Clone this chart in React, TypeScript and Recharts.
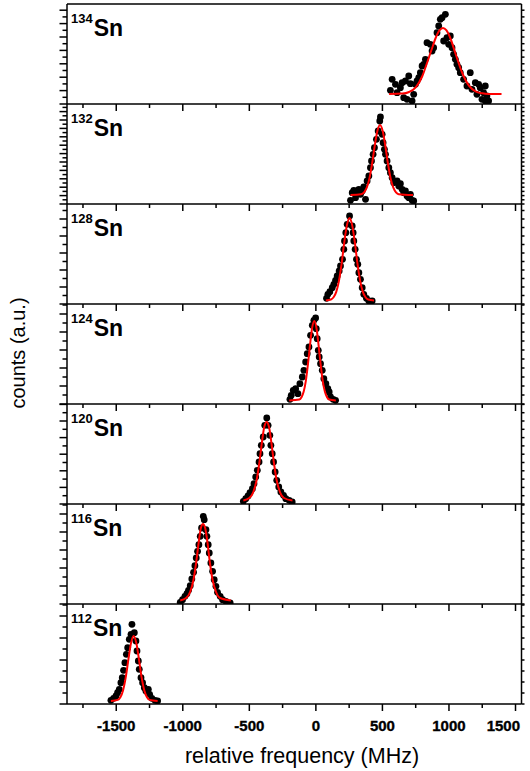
import React from 'react'
import { ComposedChart, Scatter, Line, XAxis, YAxis, ReferenceLine } from 'recharts'

const FONT = '"Liberation Sans", Arial, sans-serif'

const isotopes = ['134', '132', '128', '124', '120', '116', '112']
// spacing of the unlabeled count ticks, per panel
const yTickStep = [6.7, 4.2, 8.5, 9, 8.3, 9, 11]

const xMajorTicks = [-1500, -1000, -500, 0, 500, 1000, 1500]
const xMinorTicks = [-1750, -1250, -750, -250, 250, 750, 1250]

const counts134 = [[560,13.7],[573,24.7],[598,19.7],[610,11.3],[635,16.3],[648,21.3],[660,6.3],[673,23],[685,4.7],[698,28],[710,20.3],[723,3],[735,9.7],[748,19.7],[760,23],[773,26.3],[785,31.3],[798,38],[810,39.7],[823,44.7],[835,61.3],[860,59.7],[873,53],[885,56.3],[910,71.3],[923,78],[935,84.7],[948,86.3],[960,63],[973,89.7],[985,66.3],[998,59.7],[1010,68],[1023,56.3],[1035,49.7],[1048,44.7],[1060,39.7],[1073,36.3],[1085,31.3],[1110,24.7],[1135,18],[1160,31.3],[1173,14.7],[1198,21.3],[1210,9.7],[1223,19.7],[1235,16.3],[1248,4.7],[1260,11.3],[1273,18],[1273,3],[1285,8],[1298,3]]
const counts132 = [[260,3.7],[273,11.3],[285,13.7],[298,6.3],[310,13],[323,14.7],[335,9.7],[348,13],[360,17],[373,4.7],[385,23],[398,28],[410,36.3],[418,43],[430,49.7],[440,56.3],[455,64.7],[468,73],[480,83],[485,87],[498,69.7],[505,61.3],[515,54.7],[523,49.7],[535,43],[548,36.3],[560,31.3],[573,26.3],[585,21.3],[610,23],[623,18],[635,20.3],[648,14.7],[660,11.3],[673,13],[685,8],[698,6.3],[710,9.7],[723,3.7],[735,3]]
const counts128 = [[80,5.7],[90,9.7],[105,12.3],[123,16.3],[135,19.7],[148,23.7],[160,28],[175,33],[185,38],[200,44.7],[210,54.7],[215,63],[225,71.3],[235,79.7],[253,88],[273,78],[280,71.3],[285,63],[295,54.7],[305,44.7],[315,39.7],[323,31.3],[335,24.7],[348,16.3],[360,9.7],[380,5.7],[398,3],[423,3]]
const counts124 = [[-195,4.7],[-185,8.7],[-170,13.7],[-152,15.3],[-135,10.3],[-120,20.3],[-102,27],[-90,33.7],[-77,42],[-65,50.3],[-52,57],[-40,68.7],[-27,78.7],[-15,83.7],[-2,86],[3,75.3],[10,65.3],[18,53.7],[25,47],[35,40.3],[48,33.7],[60,25.3],[75,20.3],[90,15.3],[100,12],[110,7],[130,4.7],[148,3.7]]
const counts120 = [[-545,2.7],[-527,5.3],[-510,8],[-495,11.3],[-477,15.3],[-465,20.3],[-452,27],[-440,33.7],[-427,42],[-420,50.3],[-410,58.7],[-396,67],[-384,78.7],[-369,86],[-359,78.7],[-346,68.7],[-338,58.7],[-328,50.3],[-318,42],[-306,32],[-294,23.7],[-279,17],[-263,12],[-243,8.7],[-226,5.3],[-201,3.7],[-178,2]]
const counts116 = [[-1019,1.7],[-1002,4.3],[-984,7.7],[-969,10.3],[-957,13.7],[-944,18.3],[-932,25],[-919,31.7],[-909,38.3],[-899,46],[-889,52.7],[-879,59.3],[-869,67.7],[-859,76],[-846,87.7],[-839,84.3],[-826,74.3],[-819,67.7],[-809,59.3],[-801,51],[-789,41],[-776,32.7],[-764,24.3],[-751,17.7],[-739,11.7],[-719,7.7],[-701,4.3],[-676,2.7],[-644,1]]
const counts112 = [[-1540,3.7],[-1520,5.7],[-1502,8],[-1490,11.3],[-1477,14.7],[-1465,21.3],[-1455,26.3],[-1445,33.7],[-1435,41.3],[-1424,49.7],[-1414,56.3],[-1402,64.7],[-1389,69.7],[-1382,79.7],[-1364,71.3],[-1352,63],[-1344,53],[-1334,43],[-1327,34.7],[-1314,26.3],[-1302,21.3],[-1289,16.3],[-1277,13],[-1259,14.7],[-1249,9.7],[-1232,5.7],[-1209,3.7],[-1189,3]]

const fit134 = [[550,10],[650,10.4],[700,12],[750,16.7],[800,28],[835,41],[870,54.6],[900,66],[930,73.8],[955,76],[980,73.8],[1010,66],[1050,50],[1100,31],[1150,18.4],[1200,12.6],[1250,10.7],[1300,10.1],[1395,10]]
const fit132 = [[260,9],[340,9.8],[362,11.7],[382,16.3],[402,25.4],[422,40],[442,58],[462,73],[482,79],[502,73],[522,58],[542,40],[562,25.4],[582,16.3],[602,11.7],[622,9.8],[730,9]]
const fit128 = [[75,3.6],[113,4.5],[133,6.7],[153,12.1],[173,22.9],[193,39.8],[213,61.3],[233,78.6],[253,86],[273,78.6],[293,61.3],[313,39.8],[333,22.9],[353,12.1],[373,6.7],[393,4.5],[437,3.6]]
const fit124 = [[-200,3.6],[-124,4.5],[-108,6.8],[-92,12.2],[-76,22.7],[-60,39.3],[-44,59.2],[-28,76.2],[-12,83],[4,76.2],[20,59.2],[36,39.3],[52,22.7],[68,12.2],[84,6.8],[100,4.5],[150,3.6]]
const fit120 = [[-545,3.5],[-500,6],[-470,12],[-445,24],[-425,41],[-405,62],[-388,77],[-370,82],[-352,77],[-335,62],[-315,41],[-295,24],[-270,12],[-240,6],[-176,3.5]]
const fit116 = [[-1019,3.6],[-975,6],[-945,12],[-920,24],[-900,41],[-880,62],[-864,76],[-848,80],[-832,76],[-815,62],[-796,41],[-776,24],[-750,12],[-720,6],[-639,3.6]]
const fit112 = [[-1540,3],[-1489,4.1],[-1469,6.8],[-1449,13.6],[-1429,26.4],[-1409,44.3],[-1389,60.9],[-1369,68],[-1349,60.9],[-1329,44.3],[-1309,26.4],[-1289,13.6],[-1269,6.8],[-1249,4.1],[-1189,3]]

const allCounts = [counts134, counts132, counts128, counts124, counts120, counts116, counts112]
const allFits = [fit134, fit132, fit128, fit124, fit120, fit116, fit112]

const W = 530
const PANEL_H = 100
const TOP0 = 3.5
const M_TOP = 10
const M_BOTTOM = 40
const M_LEFT = 66
const M_RIGHT = 7.5
const X_DOMAIN = [-1870, 1545]
const LW = 1.5

const toPts = (arr: number[][]) => arr.map(([x, y]) => ({ x, y }))

function XTick(props: any) {
  const { x, y, payload, showLabel } = props
  const major = payload.value % 500 === 0
  // last label is pulled inside the page edge, as in the original
  const edge = x + 17 > W - 10
  return (
    <g>
      <line x1={x} x2={x} y1={y} y2={y + (major ? 7 : 4)} stroke="#000" strokeWidth={LW} />
      {showLabel && major && (
        <text
          x={edge ? W - 10 : x}
          y={y + 27}
          textAnchor={edge ? 'end' : 'middle'}
          fontSize={15}
          fontWeight={700}
          fontFamily={FONT}
          fill="#000"
          stroke="#000"
          strokeWidth={0.35}
        >
          {payload.value}
        </text>
      )}
    </g>
  )
}

function YTickLeft(props: any) {
  const { x, y, index } = props
  const len = index % 2 === 0 ? 7.5 : 4.5
  return <line x1={x - len} x2={x} y1={y} y2={y} stroke="#000" strokeWidth={LW} />
}

function YTickRight(props: any) {
  const { x, y } = props
  return <line x1={x} x2={x + 3} y1={y} y2={y} stroke="#000" strokeWidth={LW} />
}

function Panel({ k }: { k: number }) {
  const step = yTickStep[k]
  const yTicks: number[] = []
  for (let v = 0; v <= 100.01; v += step) yTicks.push(+v.toFixed(2))
  const xTicks = [...xMajorTicks, ...xMinorTicks].sort((a, b) => a - b)
  const h = M_TOP + PANEL_H + 1 + M_BOTTOM
  const pos = { position: 'absolute' as const, left: 0, top: TOP0 + k * PANEL_H - M_TOP }
  return (
    <>
      <div style={pos}>
        <ComposedChart width={W} height={h} margin={{ top: M_TOP, right: M_RIGHT, bottom: M_BOTTOM, left: M_LEFT }}>
          <XAxis
            dataKey="x"
            type="number"
            domain={X_DOMAIN}
            allowDataOverflow
            ticks={xTicks}
            interval={0}
            height={1}
            tickSize={0}
            tickMargin={0}
            tickLine={false}
            axisLine={{ stroke: '#000', strokeWidth: LW }}
            tick={(p: any) => <XTick {...p} showLabel={k === 6} />}
          />
          <YAxis
            yAxisId="left"
            type="number"
            domain={[0, 100]}
            allowDataOverflow
            ticks={yTicks}
            interval={0}
            width={1}
            tickSize={0}
            tickMargin={0}
            tickLine={false}
            axisLine={{ stroke: '#000', strokeWidth: LW }}
            tick={(p: any) => <YTickLeft {...p} />}
          />
          <YAxis
            yAxisId="right"
            orientation="right"
            type="number"
            domain={[0, 100]}
            allowDataOverflow
            ticks={yTicks}
            interval={0}
            width={1}
            tickSize={0}
            tickMargin={0}
            tickLine={false}
            axisLine={{ stroke: '#000', strokeWidth: LW }}
            tick={(p: any) => <YTickRight {...p} />}
          />
          {k === 0 && <ReferenceLine yAxisId="left" y={100} stroke="#000" strokeWidth={LW} />}
          <Scatter
            yAxisId="left"
            data={toPts(allCounts[k])}
            dataKey="y"
            isAnimationActive={false}
            shape={(p: any) => <circle cx={p.cx} cy={p.cy} r={3.4} fill="#000" />}
          />
        </ComposedChart>
      </div>
      {/* fit curve on its own transparent layer so it sits above the points */}
      <div style={pos}>
        <ComposedChart
          width={W}
          height={h}
          margin={{ top: M_TOP, right: M_RIGHT + 1, bottom: M_BOTTOM + 1, left: M_LEFT + 1 }}
        >
          <XAxis dataKey="x" type="number" domain={X_DOMAIN} allowDataOverflow hide />
          <YAxis type="number" domain={[0, 100]} allowDataOverflow hide />
          <Line
            data={toPts(allFits[k])}
            dataKey="y"
            type="monotone"
            stroke="#ff0000"
            strokeWidth={2}
            dot={false}
            activeDot={false}
            isAnimationActive={false}
          />
        </ComposedChart>
      </div>
    </>
  )
}

export default function App() {
  return (
    <div style={{ position: 'relative', width: W, height: 771, background: '#fff' }}>
      <style>{'body{margin:0}'}</style>
      {isotopes.map((_, k) => (
        <Panel key={k} k={k} />
      ))}
      <svg width={W} height={771} style={{ position: 'absolute', left: 0, top: 0, pointerEvents: 'none' }}>
        {isotopes.map((iso, k) => {
          const top = TOP0 + k * PANEL_H
          return (
            <text key={iso} fontFamily={FONT} fontWeight={700} fill="#000">
              <tspan x={71} y={top + 19} fontSize={13}>{iso}</tspan>
              <tspan dx={1} y={top + 32} fontSize={23}>Sn</tspan>
            </text>
          )
        })}
        <text x={302} y={763} textAnchor="middle" fontSize={21.5} fontFamily={FONT} fill="#000">
          relative frequency (MHz)
        </text>
        <text transform="translate(25,353) rotate(-90)" textAnchor="middle" fontSize={20} fontFamily={FONT} fill="#000">
          counts (a.u.)
        </text>
      </svg>
    </div>
  )
}
